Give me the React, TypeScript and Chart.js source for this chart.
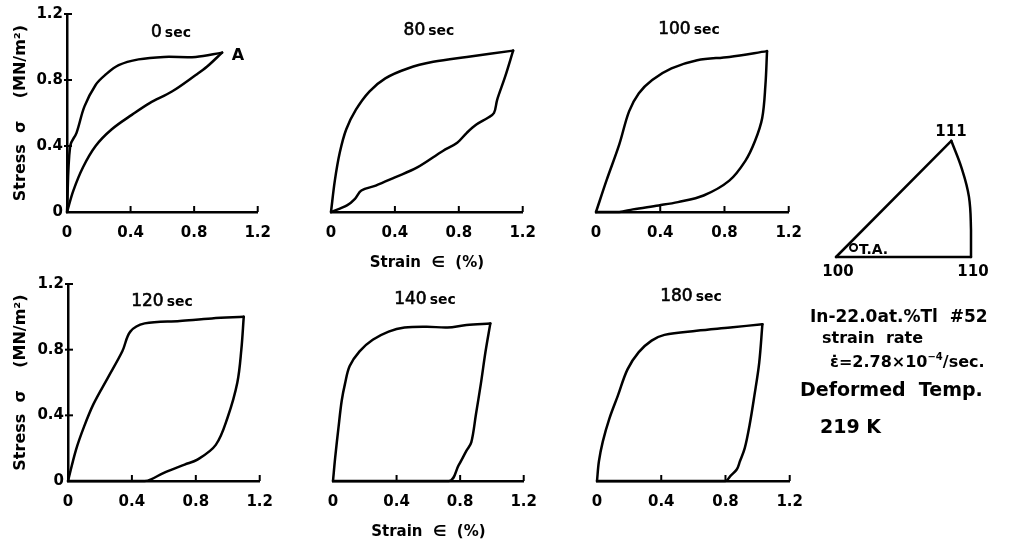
import React, { useEffect, useRef } from "react";
import { Chart, registerables } from "chart.js";
Chart.register(...registerables);

const FONT = "'DejaVu Sans', sans-serif";

// ---- axes ----
const strainTicks = [0, 0.4, 0.8, 1.2];
const stressTicks = [0, 0.4, 0.8, 1.2];
const strainTitle = "Strain  \u2208  (%)";
const stressTitle = "Stress  \u03c3    (MN/m\u00b2)";
const panelTimes = ["0", "80", "100", "120", "140", "180"];

// ---- 0 sec ----
const load0X = [0, 0.02, 0.06, 0.11, 0.18, 0.24, 0.325, 0.45, 0.61, 0.81, 0.976];
const load0Y = [0, 0.4, 0.48, 0.64, 0.77, 0.83, 0.89, 0.925, 0.94, 0.94, 0.966];
const unload0X = [0.976, 0.88, 0.81, 0.66, 0.52, 0.41, 0.28, 0.18, 0.1, 0.04, 0];
const unload0Y = [0.966, 0.88, 0.83, 0.73, 0.66, 0.59, 0.5, 0.4, 0.27, 0.13, 0];

// ---- 80 sec ----
const load80X = [0, 0.024, 0.055, 0.095, 0.156, 0.24, 0.34, 0.48, 0.64, 0.85, 1.14];
const load80Y = [0, 0.19, 0.36, 0.5, 0.62, 0.73, 0.81, 0.87, 0.91, 0.94, 0.978];
const unload80X = [1.14, 1.09, 1.04, 1.02, 0.98, 0.91, 0.85, 0.79, 0.7, 0.54, 0.4, 0.28, 0.19, 0.15, 0.1, 0];
const unload80Y = [0.978, 0.82, 0.68, 0.6, 0.57, 0.53, 0.48, 0.42, 0.37, 0.27, 0.21, 0.16, 0.13, 0.08, 0.04, 0];

// ---- 100 sec ----
const load100X = [0, 0.065, 0.145, 0.206, 0.267, 0.35, 0.47, 0.63, 0.83, 1.065];
const load100Y = [0, 0.19, 0.41, 0.61, 0.72, 0.8, 0.87, 0.92, 0.94, 0.975];
const unload100X = [1.065, 1.055, 1.035, 0.99, 0.93, 0.83, 0.67, 0.51, 0.39, 0.23, 0.145, 0];
const unload100Y = [0.975, 0.77, 0.57, 0.43, 0.31, 0.19, 0.1, 0.06, 0.04, 0.016, 0, 0];

// ---- 120 sec ----
const load120X = [0, 0.05, 0.1, 0.16, 0.25, 0.34, 0.39, 0.48, 0.7, 0.9, 1.1];
const load120Y = [0, 0.19, 0.33, 0.47, 0.63, 0.79, 0.91, 0.96, 0.975, 0.99, 1.0];
const unload120X = [1.1, 1.085, 1.06, 1.0, 0.925, 0.81, 0.73, 0.6, 0.52, 0.48, 0];
const unload120Y = [1.0, 0.8, 0.6, 0.39, 0.22, 0.13, 0.1, 0.05, 0.01, 0, 0];

// ---- 140 sec ----
const load140X = [0, 0.014, 0.035, 0.055, 0.075, 0.105, 0.167, 0.25, 0.35, 0.45, 0.59, 0.72, 0.84, 0.99];
const load140Y = [0, 0.145, 0.33, 0.49, 0.59, 0.7, 0.79, 0.86, 0.91, 0.935, 0.94, 0.935, 0.95, 0.96];
const unload140X = [0.99, 0.96, 0.93, 0.9, 0.87, 0.84, 0.79, 0.73, 0];
const unload140Y = [0.96, 0.79, 0.59, 0.41, 0.235, 0.185, 0.095, 0, 0];

// ---- 180 sec ----
const load180X = [0, 0.012, 0.036, 0.077, 0.13, 0.19, 0.26, 0.34, 0.42, 0.62, 0.83, 1.03];
const load180Y = [0, 0.12, 0.24, 0.38, 0.52, 0.68, 0.785, 0.855, 0.89, 0.915, 0.935, 0.955];
const unload180X = [1.03, 1.01, 0.98, 0.95, 0.92, 0.89, 0.87, 0.83, 0.8, 0];
const unload180Y = [0.955, 0.72, 0.52, 0.34, 0.2, 0.12, 0.07, 0.03, 0, 0];

// ---- stereographic triangle (100 at origin, 110 at (1,0)) ----
const tri100to111X = [0, 0.854];
const tri100to111Y = [0, 0.861];
const tri100to110X = [0, 1.0];
const tri100to110Y = [0, 0];
const triArcX = [0.854, 0.93, 0.985, 1.0, 1.0];
const triArcY = [0.861, 0.66, 0.445, 0.2, 0];
const tensileAxisX = [0.13];
const tensileAxisY = [0.07];

const pts = (xs: number[], ys: number[]) => xs.map((x, i) => ({ x, y: ys[i] }));

const innerTicks = {
  id: "innerTicks",
  afterDraw(chart: any) {
    const { ctx, scales } = chart;
    const xs = scales.x;
    const ys = scales.y;
    ctx.save();
    ctx.strokeStyle = "#000";
    ctx.lineWidth = 2;
    const y0 = ys.getPixelForValue(0);
    const x0 = xs.getPixelForValue(0);
    for (const v of strainTicks) {
      if (v === 0) continue;
      const px = xs.getPixelForValue(v);
      ctx.beginPath();
      ctx.moveTo(px, y0);
      ctx.lineTo(px, y0 - 6);
      ctx.stroke();
    }
    if (ys.options.display) {
      for (const v of stressTicks) {
        if (v === 0) continue;
        const py = ys.getPixelForValue(v);
        ctx.beginPath();
        ctx.moveTo(x0 - 3, py);
        ctx.lineTo(x0 + 5, py);
        ctx.stroke();
      }
    }
    ctx.restore();
  },
};

const fmt = (v: number) => (v === 0 ? "0" : v.toFixed(1));

type Area = { l: number; r: number; t: number; b: number };

function Panel(props: {
  lx: number[]; ly: number[]; ux: number[]; uy: number[];
  area: Area; showY: boolean; showXTitle: boolean;
}) {
  const { lx, ly, ux, uy, area, showY, showXTitle } = props;
  const ref = useRef<HTMLCanvasElement>(null);
  const padT = 20, padR = 20, padB = 2;
  const padL = showY ? 0 : 20;
  const yW = showY ? area.l : 0;
  const xH = 60;
  const left = showY ? 0 : area.l - padL;
  const width = area.r - area.l + padL + padR + yW;
  const height = area.b - area.t + padT + xH + padB;
  const top = area.t - padT;

  useEffect(() => {
    const line = {
      borderColor: "#000",
      borderWidth: 2.5,
      pointRadius: 0,
      showLine: true,
      tension: 0.35,
      clip: false as any,
      borderCapStyle: "round" as const,
      borderJoinStyle: "round" as const,
    };
    const tickFont = { family: FONT, size: 15, weight: "bold" as const };
    const chart = new Chart(ref.current!, {
      type: "scatter",
      data: {
        datasets: [
          { data: pts(lx, ly), ...line },
          { data: pts(ux, uy), ...line },
        ],
      },
      options: {
        animation: false,
        responsive: false,
        devicePixelRatio: 1,
        layout: { padding: { left: padL, right: padR, top: padT, bottom: padB } },
        plugins: { legend: { display: false }, tooltip: { enabled: false } },
        scales: {
          x: {
            type: "linear",
            min: 0,
            max: 1.2,
            afterFit: (s: any) => { s.height = xH; },
            afterBuildTicks: (s: any) => { s.ticks = strainTicks.map((v) => ({ value: v })); },
            ticks: { font: tickFont, color: "#000", padding: 12, callback: (v: any) => fmt(Number(v)) },
            grid: { display: false, drawTicks: false },
            border: { display: true, color: "#000", width: 2.5 },
            title: {
              display: showXTitle,
              text: strainTitle,
              color: "#000",
              font: { family: FONT, size: 15, weight: "bold" },
              padding: { top: 0, bottom: 0 },
            },
          },
          y: {
            type: "linear",
            display: showY,
            min: 0,
            max: 1.2,
            afterFit: (s: any) => { s.width = yW; },
            afterBuildTicks: (s: any) => { s.ticks = stressTicks.map((v) => ({ value: v })); },
            ticks: { font: tickFont, color: "#000", padding: 4, callback: (v: any) => fmt(Number(v)) },
            grid: { display: false, drawTicks: false },
            border: { display: true, color: "#000", width: 2.5 },
            title: {
              display: true,
              text: stressTitle,
              color: "#000",
              font: { family: FONT, size: 16, weight: "bold" },
              padding: { top: 11, bottom: 0 },
            },
          },
        },
      },
      plugins: [innerTicks],
    });
    return () => chart.destroy();
  }, []);

  return (
    <canvas
      ref={ref}
      width={width}
      height={height}
      style={{ position: "absolute", left, top, width, height }}
    />
  );
}

function Triangle() {
  const ref = useRef<HTMLCanvasElement>(null);
  useEffect(() => {
    const line = {
      borderColor: "#000",
      borderWidth: 2.5,
      pointRadius: 0,
      showLine: true,
      clip: false as any,
      borderCapStyle: "round" as const,
    };
    const chart = new Chart(ref.current!, {
      type: "scatter",
      data: {
        datasets: [
          { data: pts(tri100to111X, tri100to111Y), ...line },
          { data: pts(tri100to110X, tri100to110Y), ...line },
          { data: pts(triArcX, triArcY), ...line, tension: 0.4 },
          {
            data: pts(tensileAxisX, tensileAxisY),
            showLine: false,
            pointRadius: 3.5,
            pointBorderWidth: 2,
            pointBorderColor: "#000",
            pointBackgroundColor: "#fff",
            clip: false as any,
          },
        ],
      },
      options: {
        animation: false,
        responsive: false,
        devicePixelRatio: 1,
        layout: { padding: 5 },
        plugins: { legend: { display: false }, tooltip: { enabled: false } },
        scales: {
          x: { type: "linear", display: false, min: 0, max: 1 },
          y: { type: "linear", display: false, min: 0, max: 1 },
        },
      },
    });
    return () => chart.destroy();
  }, []);
  return (
    <canvas
      ref={ref}
      width={147}
      height={147}
      style={{ position: "absolute", left: 830, top: 116, width: 147, height: 147 }}
    />
  );
}

function Txt(props: { x: number; y: number; size: number; center?: boolean; bold?: boolean; children: any }) {
  const { x, y, size, center, bold, children } = props;
  return (
    <div
      style={{
        position: "absolute",
        left: x,
        top: y,
        transform: center ? "translate(-50%,-50%)" : "translate(0,-50%)",
        fontFamily: FONT,
        fontSize: size,
        fontWeight: bold === false ? "normal" : "bold",
        lineHeight: 1,
        whiteSpace: "pre",
        color: "#000",
      }}
    >
      {children}
    </div>
  );
}

function SecTitle(props: { x: number; y: number; t: string }) {
  return (
    <Txt x={props.x} y={props.y} size={17} center>
      <span style={{ fontSize: 17, fontWeight: "normal", WebkitTextStroke: "0.6px #000" }}>{props.t}</span>
      <span style={{ fontSize: 14, fontWeight: "bold", marginLeft: 3 }}>sec</span>
    </Txt>
  );
}

export default function App() {
  const top: Area[] = [
    { l: 67, r: 263, t: 14, b: 212 },
    { l: 331, r: 528, t: 14, b: 212 },
    { l: 596, r: 794, t: 14, b: 212 },
  ];
  const bot: Area[] = [
    { l: 68, r: 265, t: 284, b: 481 },
    { l: 333, r: 529, t: 284, b: 481 },
    { l: 597, r: 795, t: 284, b: 481 },
  ];
  const titlePos = [
    [171, 31], [429, 29], [689, 28],
    [162, 300], [425, 298], [691, 295],
  ];
  return (
    <div
      style={{
        position: "fixed",
        left: 0,
        top: 0,
        width: 1015,
        height: 545,
        background: "#fff",
        overflow: "hidden",
      }}
    >
      <Panel lx={load0X} ly={load0Y} ux={unload0X} uy={unload0Y} area={top[0]} showY showXTitle={false} />
      <Panel lx={load80X} ly={load80Y} ux={unload80X} uy={unload80Y} area={top[1]} showY={false} showXTitle />
      <Panel lx={load100X} ly={load100Y} ux={unload100X} uy={unload100Y} area={top[2]} showY={false} showXTitle={false} />
      <Panel lx={load120X} ly={load120Y} ux={unload120X} uy={unload120Y} area={bot[0]} showY showXTitle={false} />
      <Panel lx={load140X} ly={load140Y} ux={unload140X} uy={unload140Y} area={bot[1]} showY={false} showXTitle />
      <Panel lx={load180X} ly={load180Y} ux={unload180X} uy={unload180Y} area={bot[2]} showY={false} showXTitle={false} />
      <Triangle />
      {panelTimes.map((t, i) => (
        <SecTitle key={t} x={titlePos[i][0]} y={titlePos[i][1]} t={t} />
      ))}
      <Txt x={238} y={55} size={16} center>A</Txt>
      <Txt x={951} y={131} size={15} center>111</Txt>
      <Txt x={838} y={271} size={15} center>100</Txt>
      <Txt x={973} y={271} size={15} center>110</Txt>
      <Txt x={859} y={249} size={14}>T.A.</Txt>
      <Txt x={810} y={316} size={17}>In-22.0at.%Tl  #52</Txt>
      <Txt x={822} y={338} size={16}>strain  rate</Txt>
      <Txt x={830} y={361} size={16}>
        {"\u03b5\u0307=2.78\u00d710"}
        <sup style={{ fontSize: 10 }}>{"\u22124"}</sup>
        {"/sec."}
      </Txt>
      <Txt x={800} y={389} size={19}>Deformed  Temp.</Txt>
      <Txt x={820} y={426} size={19}>219 K</Txt>
    </div>
  );
}
